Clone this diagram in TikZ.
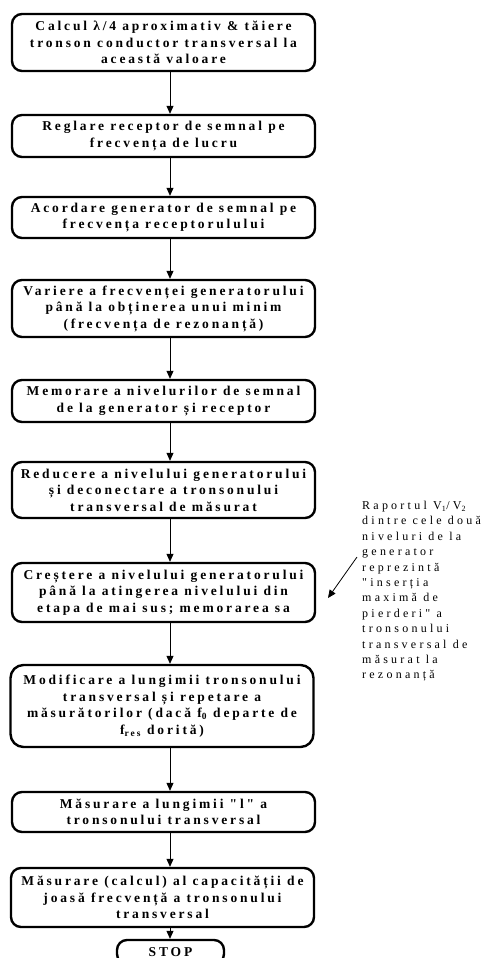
\documentclass[tikz,border=0pt]{standalone}
\usepackage{fontspec}
\setmainfont{Liberation Serif}
\newfontfamily\boxfont[LetterSpace=21]{Liberation Serif}
\newfontfamily\notefont[LetterSpace=27]{Liberation Serif}
\usetikzlibrary{arrows.meta}
\begin{document}
\begin{tikzpicture}[x=1pt,y=-1pt,
  stepbox/.style={draw, line width=2.4pt, rounded corners=10pt,
    minimum width=303pt, inner sep=0pt, align=center,
    font=\boxfont\bfseries\fontsize{13.5}{16.5}\selectfont},
  notetext/.style={inner sep=0pt, align=left,
    font=\notefont\fontsize{12}{15.4}\selectfont},
  arr/.style={line width=0.8pt, -{Triangle[length=8pt,width=7pt]}}]
\useasboundingbox (0,0) rectangle (486,958);

% flow steps
\node[stepbox, minimum height=57pt] (b1) at (163.5,42.5)
  {Calcul λ/4 aproximativ \& tăiere\\tronson conductor transversal la\\această valoare};
\node[stepbox, minimum height=42pt] (b2) at (163.5,136)
  {Reglare receptor de semnal pe\\frecvența de lucru};
\node[stepbox, minimum height=41pt] (b3) at (163.5,217.5)
  {Acordare generator de semnal pe\\frecvența receptorulului};
\node[stepbox, minimum height=57pt] (b4) at (163.5,308.5)
  {Variere a frecvenței generatorului\\până la obținerea unui minim\\(frecvența de rezonanță)};
\node[stepbox, minimum height=42pt] (b5) at (163.5,401)
  {Memorare a nivelurilor de semnal\\de la generator și receptor};
\node[stepbox, minimum height=56pt] (b6) at (163.5,490)
  {Reducere a nivelului generatorului\\și deconectare a tronsonului\\transversal de măsurat};
\node[stepbox, minimum height=59pt] (b7) at (163.5,592.5)
  {Creștere a nivelului generatorului\\până la atingerea nivelului din\\etapa de mai sus; memorarea sa};
\node[stepbox, minimum height=82pt, rounded corners=13pt] (b8) at (162,706)
  {Modificare a lungimii tronsonului\\transversal și repetare a\\măsurătorilor (dacă f\textsubscript{0} departe de\\f\textsubscript{res} dorită)};
\node[stepbox, minimum height=40pt] (b9) at (163.5,812)
  {Măsurare a lungimii "l" a\\tronsonului transversal};
\node[stepbox, minimum height=59pt] (b10) at (162.5,897.5)
  {Măsurare (calcul) al capacității de\\joasă frecvență a tronsonului\\transversal};
\node[stepbox, minimum width=107pt, minimum height=24pt] (stop) at (170.5,952) {STOP};

% connectors
\coordinate (ax) at (170,0);
\foreach \a/\b in {b1/b2,b2/b3,b3/b4,b4/b5,b5/b6,b6/b7,b7/b8,b8/b9,b9/b10,b10/stop}
  \draw[arr] (\a.south -| ax) -- (\b.north -| ax);

% side note
\node[notetext, anchor=north west] (note) at (362,501)
  {Raportul V\textsubscript{1}/V\textsubscript{2}\\dintre cele două\\niveluri de la\\generator\\reprezintă\\"inserția\\maximă de\\pierderi" a\\tronsonului\\transversal de\\măsurat la\\rezonanță};
\coordinate (ns) at (357,557);
\coordinate (ne) at (328,598);
\draw[arr] (ns) -- (ne);
\end{tikzpicture}
\end{document}
